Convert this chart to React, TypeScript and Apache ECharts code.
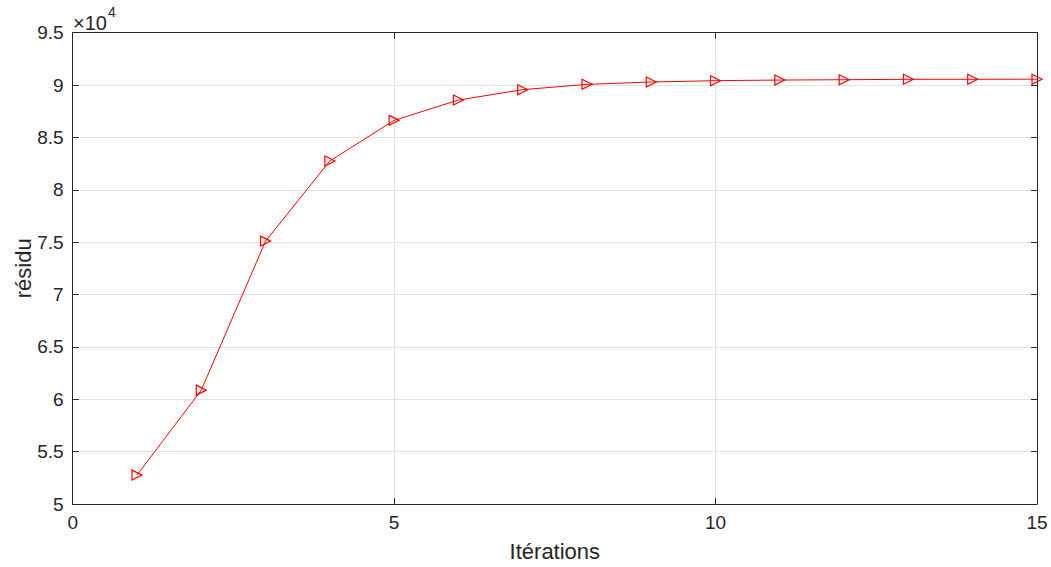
import React, { useEffect, useRef } from "react";
import * as echarts from "echarts";

const iterations = [1, 2, 3, 4, 5, 6, 7, 8, 9, 10, 11, 12, 13, 14, 15];
const residu = [52760, 60870, 75100, 82750, 86630, 88570, 89560, 90070, 90290, 90420, 90480, 90510, 90550, 90550, 90560];
const xTicks = { min: 0, max: 15, interval: 5 };
const yTicks = { min: 50000, max: 95000, interval: 5000 };

const FONT = "'Liberation Sans', Arial, Helvetica, sans-serif";
const AXIS_COLOR = "#262626";

export default function App() {
  const ref = useRef<HTMLDivElement>(null);
  useEffect(() => {
    if (!ref.current) return;
    const chart = echarts.init(ref.current, undefined, { renderer: "svg" });
    const grid = { left: 72.7, top: 32.7, right: 14, bottom: 63, containLabel: false, outerBoundsMode: "none" };
    const baseX = {
      type: "value",
      min: xTicks.min,
      max: xTicks.max,
      interval: xTicks.interval,
      axisLine: { show: true, onZero: false, lineStyle: { color: AXIS_COLOR, width: 1 } },
      axisTick: { show: true, inside: true, length: 6, lineStyle: { color: AXIS_COLOR } },
    };
    const baseY = {
      type: "value",
      min: yTicks.min,
      max: yTicks.max,
      interval: yTicks.interval,
      axisLine: { show: true, onZero: false, lineStyle: { color: AXIS_COLOR, width: 1 } },
      axisTick: { show: true, inside: true, length: 6, lineStyle: { color: AXIS_COLOR } },
    };
    chart.setOption({
      animation: false,
      backgroundColor: "#ffffff",
      grid,
      textStyle: { fontFamily: FONT },
      xAxis: [
        {
          ...baseX,
          position: "bottom",
          name: "Itérations",
          nameLocation: "middle",
          nameGap: 36,
          nameTextStyle: { fontFamily: FONT, fontSize: 22, color: AXIS_COLOR },
          axisLabel: { fontFamily: FONT, fontSize: 19, color: AXIS_COLOR, margin: 9 },
          splitLine: { show: true, lineStyle: { color: "#e3e3e3", width: 1 } },
        },
        {
          ...baseX,
          position: "top",
          axisLabel: { show: false },
          splitLine: { show: false },
        },
      ],
      yAxis: [
        {
          ...baseY,
          position: "left",
          name: "résidu",
          nameLocation: "middle",
          nameGap: 38,
          nameMoveOverlap: false,
          nameRotate: 90,
          nameTextStyle: { fontFamily: FONT, fontSize: 22, color: AXIS_COLOR },
          axisLabel: {
            fontFamily: FONT,
            fontSize: 19,
            color: AXIS_COLOR,
            margin: 9,
            formatter: (v: number) => String(v / 10000),
          },
          splitLine: { show: true, lineStyle: { color: "#e3e3e3", width: 1 } },
        },
        {
          ...baseY,
          position: "right",
          axisLabel: { show: false },
          splitLine: { show: false },
        },
      ],
      graphic: [
        {
          type: "text",
          left: 73,
          top: 5,
          style: {
            rich: {
              a: { fontFamily: FONT, fontSize: 20, fill: AXIS_COLOR, verticalAlign: "bottom", padding: [8, 0, 0, 0] },
              b: { fontFamily: FONT, fontSize: 14, fill: AXIS_COLOR, verticalAlign: "top", padding: [0, 0, 9, 1] },
            },
            text: "{a|×10}{b|4}",
          },
        },
      ],
      series: [
        {
          type: "line",
          xAxisIndex: 0,
          yAxisIndex: 0,
          data: iterations.map((x, i) => [x, residu[i]]),
          lineStyle: { color: "#ff0000", width: 1 },
          symbol: "path://M0,0 L10,5 L0,10 Z",
          symbolSize: [10, 10],
          itemStyle: { color: "rgba(255,255,255,0)", borderColor: "#ff0000", borderWidth: 1.2 },
          clip: false,
          z: 5,
        },
      ],
    });
    return () => chart.dispose();
  }, []);
  return (
    <div
      ref={ref}
      style={{ position: "fixed", left: 0, top: 0, width: 1051, height: 567, background: "#fff" }}
    />
  );
}
